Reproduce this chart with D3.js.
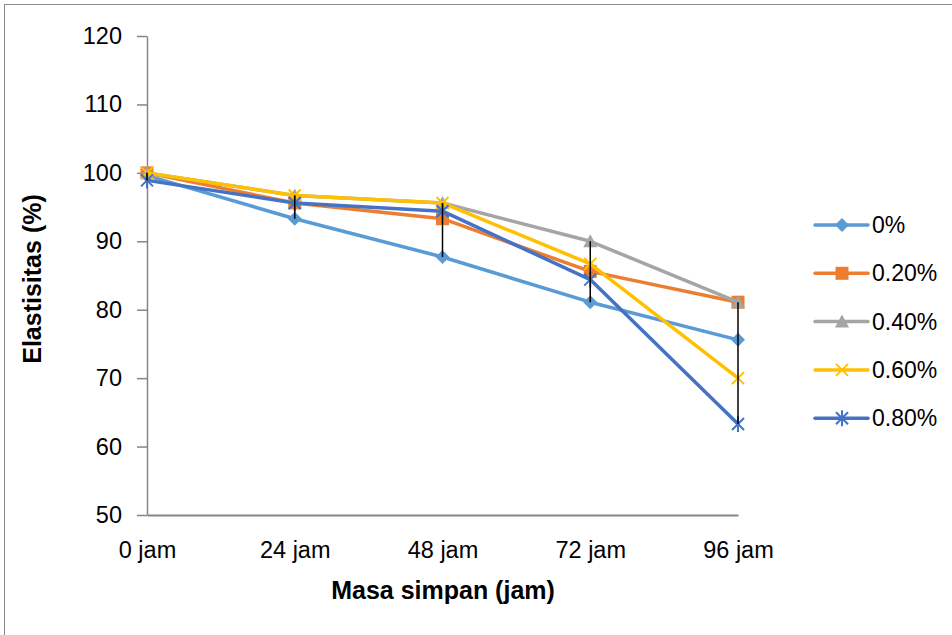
<!DOCTYPE html>
<html>
<head>
<meta charset="utf-8">
<script src="https://cdn.jsdelivr.net/npm/d3@7"></script>
<style>
  body { margin: 0; background: #fff; }
  svg text { font-family: "Liberation Sans", Arial, sans-serif; fill: #000; }
</style>
</head>
<body>
<div id="chart"></div>
<script>
// data
var categories = ["0 jam", "24 jam", "48 jam", "72 jam", "96 jam"];
var seriesNames = ["0%", "0.20%", "0.40%", "0.60%", "0.80%"];
var values0 = [99.6, 93.3, 87.7, 81.1, 75.6];
var values20 = [100, 95.6, 93.3, 85.6, 81.1];
var values40 = [100, 96.7, 95.6, 90.0, 81.1];
var values60 = [100, 96.7, 95.6, 86.7, 70.0];
var values80 = [98.9, 95.6, 94.4, 84.4, 63.3];
var yTicks = [50, 60, 70, 80, 90, 100, 110, 120];

var colors = ["#5b9bd5", "#ed7d31", "#a5a5a5", "#ffc000", "#4472c4"];
var markers = ["diamond", "square", "triangle", "x", "star"];

var series = seriesNames.map(function(name, i){
  return {name: name, values: [values0, values20, values40, values60, values80][i],
          color: colors[i], marker: markers[i]};
});

var W = 952, H = 635;
var svg = d3.select("#chart").append("svg").attr("width", W).attr("height", H);

// outer frame
svg.append("rect")
  .attr("x", 4.5).attr("y", 4.5).attr("width", 980).attr("height", 660)
  .attr("fill", "none").attr("stroke", "#8c8c8c").attr("stroke-width", 1);

var x = d3.scalePoint().domain(categories).range([147, 738]);
var y = d3.scaleLinear().domain([50, 120]).range([515, 36]);

// y axis
var gy = svg.append("g")
  .attr("transform", "translate(147,0)")
  .call(d3.axisLeft(y).tickValues(yTicks).tickSize(10).tickPadding(15).tickSizeOuter(0));
gy.select(".domain").attr("stroke", "#868686").attr("stroke-width", 1.5);
gy.selectAll(".tick line").attr("stroke", "#868686").attr("stroke-width", 1.5);
gy.selectAll(".tick text").attr("font-size", "23.5px")
  .style("font-family", "'Liberation Sans', Arial, sans-serif").attr("fill", "#000");

// x axis
var gx = svg.append("g")
  .attr("transform", "translate(0,515)")
  .call(d3.axisBottom(x).tickSize(0).tickPadding(26).tickSizeOuter(0));
gx.select(".domain").attr("stroke", "#868686").attr("stroke-width", 2);
gx.selectAll(".tick text").attr("font-size", "23.5px")
  .style("font-family", "'Liberation Sans', Arial, sans-serif").attr("fill", "#000");

// axis titles
svg.append("text")
  .attr("x", 443).attr("y", 599)
  .attr("text-anchor", "middle")
  .attr("font-size", "25px").attr("font-weight", "bold")
  .text("Masa simpan (jam)");

svg.append("text")
  .attr("transform", "translate(41,279) rotate(-90)")
  .attr("text-anchor", "middle")
  .attr("font-size", "25px").attr("font-weight", "bold")
  .text("Elastisitas (%)");

// marker drawing
function drawMarker(g, type, color){
  if(type === "diamond"){
    g.append("path").attr("d", "M0,-7L7,0L0,7L-7,0Z").attr("fill", color);
  } else if(type === "square"){
    g.append("rect").attr("x", -6.5).attr("y", -6.5).attr("width", 13).attr("height", 13)
      .attr("fill", color);
  } else if(type === "triangle"){
    g.append("path").attr("d", "M0,-7L7,6L-7,6Z").attr("fill", color);
  } else if(type === "x"){
    g.append("path").attr("d", "M-6,-6L6,6M-6,6L6,-6")
      .attr("stroke", color).attr("stroke-width", 2).attr("fill", "none");
  } else if(type === "star"){
    g.append("path").attr("d", "M-6,-6L6,6M-6,6L6,-6M0,-8L0,8")
      .attr("stroke", color).attr("stroke-width", 2).attr("fill", "none");
  }
}

var line = d3.line()
  .x(function(d, i){ return x(categories[i]); })
  .y(function(d){ return y(d); });

series.forEach(function(s){
  var g = svg.append("g");
  g.append("path")
    .attr("d", line(s.values))
    .attr("fill", "none")
    .attr("stroke", s.color)
    .attr("stroke-width", 3.5)
    .attr("stroke-linejoin", "round")
    .attr("stroke-linecap", "round");
  s.values.forEach(function(v, i){
    var m = g.append("g").attr("transform", "translate(" + x(categories[i]) + "," + y(v) + ")");
    drawMarker(m, s.marker, s.color);
  });
});

// high-low lines
categories.forEach(function(c, i){
  var vals = series.map(function(s){ return s.values[i]; });
  svg.append("line")
    .attr("x1", x(c)).attr("x2", x(c))
    .attr("y1", y(d3.max(vals))).attr("y2", y(d3.min(vals)))
    .attr("stroke", "#000").attr("stroke-width", 1.5);
});

// legend
var legend = svg.append("g");
series.forEach(function(s, i){
  var ly = 225 + i * 48.3;
  var lg = legend.append("g").attr("transform", "translate(0," + ly + ")");
  lg.append("line").attr("x1", 815).attr("x2", 868).attr("y1", 0).attr("y2", 0)
    .attr("stroke", s.color).attr("stroke-width", 3.5).attr("stroke-linecap", "round");
  drawMarker(lg.append("g").attr("transform", "translate(842,0)"), s.marker, s.color);
  lg.append("text").attr("x", 872).attr("y", 0).attr("dy", "0.35em")
    .attr("font-size", "23px").text(s.name);
});
</script>
</body>
</html>
